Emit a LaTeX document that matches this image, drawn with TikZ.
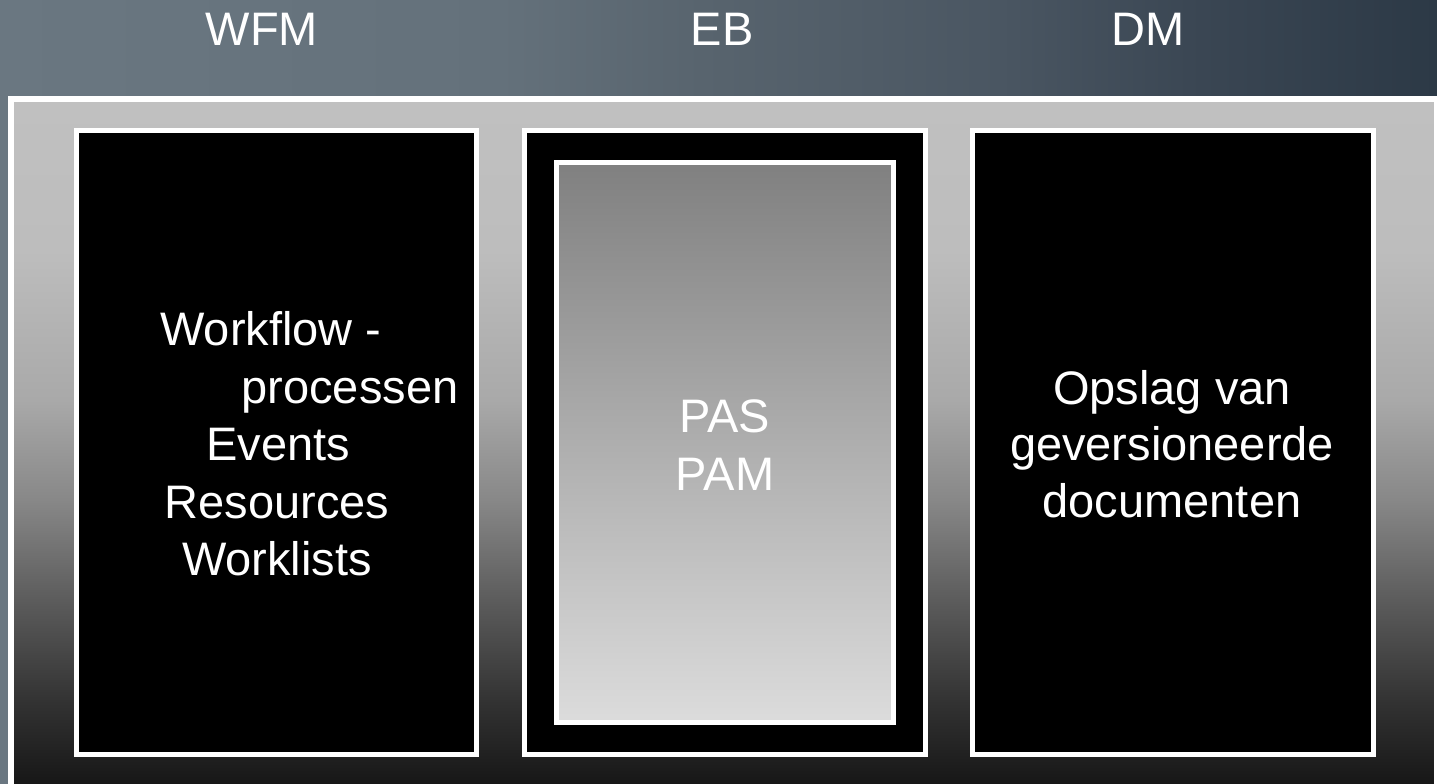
\documentclass[tikz,border=0pt]{standalone}
\usepackage{fontspec}
\setmainfont{Liberation Sans}
\definecolor{bgA}{HTML}{6A7781}
\definecolor{bgB}{HTML}{64717B}
\definecolor{bgC}{HTML}{58646E}
\definecolor{bgD}{HTML}{4A5662}
\definecolor{bgE}{HTML}{3A4653}
\definecolor{bgF}{HTML}{2C3946}
\definecolor{gA}{HTML}{C0C0C0}
\definecolor{gB}{HTML}{BDBDBD}
\definecolor{gC}{HTML}{A9A9A9}
\definecolor{gD}{HTML}{888888}
\definecolor{gE}{HTML}{5C5C5C}
\definecolor{gF}{HTML}{333333}
\definecolor{gG}{HTML}{161616}
\definecolor{innerTop}{HTML}{808080}
\definecolor{innerBot}{HTML}{DCDCDC}
\pgfdeclarehorizontalshading{bgshade}{100bp}{color(0bp)=(bgA); color(25bp)=(bgA); color(42.4bp)=(bgB); color(49.4bp)=(bgC); color(59.8bp)=(bgD); color(66.8bp)=(bgE); color(75bp)=(bgF); color(100bp)=(bgF)}
\pgfdeclareverticalshading{bigshade}{100bp}{color(0bp)=(gG); color(25bp)=(gG); color(31.3bp)=(gF); color(38.6bp)=(gE); color(45.9bp)=(gD); color(53.1bp)=(gC); color(64bp)=(gB); color(75bp)=(gA); color(100bp)=(gA)}
\begin{document}
\begin{tikzpicture}[x=1pt,y=-1pt,
  txt/.style={text=white, font=\fontsize{47}{56}\selectfont, anchor=base, inner sep=0pt, outer sep=0pt},
  panel/.style={draw=white, line width=5pt, fill=black},
  innerpanel/.style={draw=white, line width=5pt, top color=innerTop, bottom color=innerBot}]
\useasboundingbox (0,0) rectangle (1437,784);
\clip (0,0) rectangle (1437,784);
% background
\shade[shading=bgshade] (0,0) rectangle (1437,784);
% large frame
\shadedraw[shading=bigshade, draw=white, line width=6pt] (11,98.7) rectangle (1437,787);
% panels
\draw[panel] (76.5,130.8) rectangle (476.8,754.8);
\draw[panel] (524.8,130.8) rectangle (925.2,754.8);
\draw[panel] (972.5,130.8) rectangle (1373.5,754.8);
\draw[innerpanel] (556.8,162.5) rectangle (893.2,722.5);
% headings
\node[txt] (hwfm) at (262,46) {WFM};
\node[txt] (heb) at (722,46) {EB};
\node[txt] (hdm) at (1148,46) {DM};
% WFM panel text
\node[txt] (wf1) at (271,345) {Workflow -};
\node[txt] (wf2) at (350,403) {processen};
\node[txt] (wf3) at (278,460) {Events};
\node[txt] (wf4) at (277,518) {Resources};
\node[txt] (wf5) at (277,575) {Worklists};
% EB panel text
\node[txt] (eb1) at (725,432) {PAS};
\node[txt] (eb2) at (725,490) {PAM};
% DM panel text
\node[txt] (dm1) at (1172,404) {Opslag van};
\node[txt] (dm2) at (1172,460.5) {geversioneerde};
\node[txt] (dm3) at (1172,517) {documenten};
\end{tikzpicture}
\end{document}
